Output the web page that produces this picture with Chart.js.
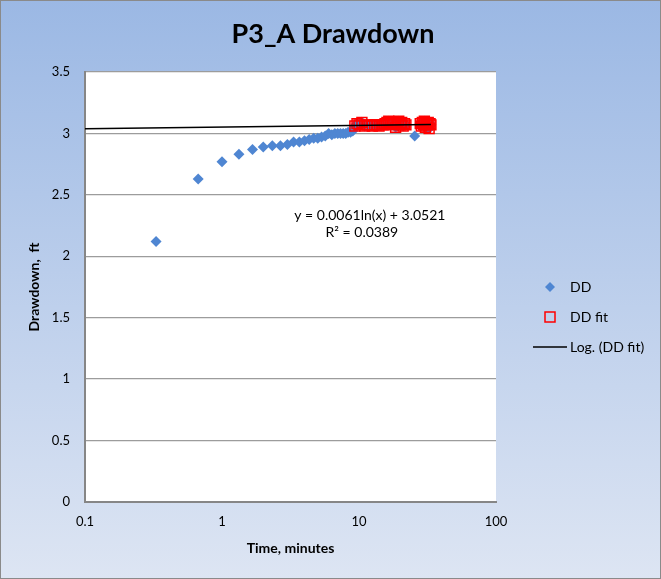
<!DOCTYPE html>
<html>
<head>
<meta charset="utf-8">
<script src="https://cdn.jsdelivr.net/npm/chart.js@4.4.1/dist/chart.umd.min.js"></script>
<style>
  html, body { margin: 0; padding: 0; background: #ffffff; }
  canvas { display: block; }
</style>
</head>
<body>
<canvas id="chart" width="661" height="579"></canvas>
<script>
// Drawdown during the early part of the test (minutes, ft)
const earlyTime = [0.33, 0.67, 1, 1.33, 1.67, 2, 2.33, 2.67, 3, 3.33, 3.67, 4, 4.33, 4.67, 5,
  5.33, 5.67, 6, 6.33, 6.67, 7, 7.33, 7.67, 8, 8.33, 8.67, 9];
const earlyDD = [2.12, 2.63, 2.77, 2.83, 2.87, 2.89, 2.90, 2.90, 2.91, 2.93, 2.93, 2.94, 2.95, 2.96, 2.96,
  2.97, 2.98, 3.00, 2.99, 3.00, 3.00, 3.00, 3.00, 3.00, 3.01, 3.01, 3.02];

// Late-time readings used for the fit (minutes, ft)
const fitTime = [9.33, 9.67, 10, 10.5, 11, 11.5, 12, 12.5, 13, 13.5, 14, 14.5, 15, 15.5, 16, 16.5,
  17, 17.5, 18, 18.5, 19, 19.5, 20, 20.5, 21, 21.5, 22,
  28, 28.5, 29, 29.5, 30, 30.5, 31, 31.5, 32, 32.5, 33, 33.5];
const fitDD = [3.06, 3.08, 3.07, 3.09, 3.06, 3.07, 3.07, 3.06, 3.07, 3.07, 3.06, 3.07, 3.07, 3.08, 3.09, 3.10,
  3.08, 3.07, 3.09, 3.05, 3.08, 3.10, 3.07, 3.09, 3.06, 3.08, 3.07,
  3.08, 3.06, 3.09, 3.07, 3.10, 3.05, 3.08, 3.07, 3.09, 3.04, 3.08, 3.07];

// Reading left out of the fit
const excludedTime = [25.5];
const excludedDD = [2.98];

// Logarithmic trendline of the fit readings: y = a ln(x) + b
const trendA = 0.0061;
const trendB = 3.0521;
const trendR2 = 0.0389;
const trendStart = 0.1;

// Axis ticks
const xTickValues = [0.1, 1, 10, 100];
const yMin = 0, yMax = 3.5, yStep = 0.5;

const FONT = 'Lato, "Liberation Sans", "DejaVu Sans", sans-serif';
Chart.defaults.font.family = FONT;
Chart.defaults.color = '#000000';

const pairs = (xs, ys) => xs.map((x, i) => ({ x: x, y: ys[i] }));
const ddPoints = pairs(earlyTime, earlyDD)
  .concat(pairs(fitTime, fitDD))
  .concat(pairs(excludedTime, excludedDD))
  .sort((a, b) => a.x - b.x);
const fitPoints = pairs(fitTime, fitDD);
const trendEnd = fitTime[fitTime.length - 1];
const trendPoints = [trendStart, trendEnd].map(x => ({ x: x, y: trendA * Math.log(x) + trendB }));

const DD_BLUE = '#4F86D2';
const FIT_RED = '#FF0000';

// Gradient backdrop, outer frame and white plot area
const backdrop = {
  id: 'backdrop',
  beforeDraw(chart) {
    const { ctx, width, height, chartArea: a } = chart;
    ctx.save();
    const g = ctx.createLinearGradient(0, 0, 0, height);
    g.addColorStop(0, '#9BB8E4');
    g.addColorStop(1, '#DDE5F3');
    ctx.fillStyle = g;
    ctx.fillRect(0, 0, width, height);
    ctx.strokeStyle = '#8A8A8A';
    ctx.lineWidth = 1;
    ctx.strokeRect(0.5, 0.5, width - 1, height - 1);
    ctx.fillStyle = '#FFFFFF';
    ctx.fillRect(a.left, a.top, a.right - a.left, a.bottom - a.top);
    ctx.restore();
  }
};

// Title, trendline equation and legend
const annotations = {
  id: 'annotations',
  afterDraw(chart) {
    const { ctx, scales } = chart;
    ctx.save();
    ctx.fillStyle = '#000000';
    ctx.textBaseline = 'middle';

    ctx.textAlign = 'center';
    ctx.font = 'bold 27px ' + FONT;
    ctx.fillText('P3_A Drawdown', 333, 34);

    ctx.font = '14px ' + FONT;
    const ex = scales.x.getPixelForValue(12);
    ctx.fillText('y = ' + trendA.toFixed(4) + 'ln(x) + ' + trendB.toFixed(4), ex, scales.y.getPixelForValue(2.33));
    ctx.fillText('R\u00B2 = ' + trendR2.toFixed(4), ex - 8, scales.y.getPixelForValue(2.19));

    // legend
    const mx = 550, tx = 570;
    const rows = [287, 317, 347];
    ctx.fillStyle = DD_BLUE;
    ctx.beginPath();
    ctx.moveTo(mx, rows[0] - 5);
    ctx.lineTo(mx + 5, rows[0]);
    ctx.lineTo(mx, rows[0] + 5);
    ctx.lineTo(mx - 5, rows[0]);
    ctx.closePath();
    ctx.fill();

    ctx.strokeStyle = FIT_RED;
    ctx.lineWidth = 1.5;
    ctx.strokeRect(mx - 5, rows[1] - 5, 10, 10);

    ctx.strokeStyle = '#000000';
    ctx.lineWidth = 1.5;
    ctx.beginPath();
    ctx.moveTo(533, rows[2]);
    ctx.lineTo(567, rows[2]);
    ctx.stroke();

    ctx.fillStyle = '#000000';
    ctx.textAlign = 'left';
    ctx.font = '14px ' + FONT;
    ctx.fillText('DD', tx, rows[0]);
    ctx.fillText('DD fit', tx, rows[1]);
    ctx.fillText('Log. (DD fit)', tx, rows[2]);
    ctx.restore();
  }
};

new Chart(document.getElementById('chart'), {
  type: 'scatter',
  data: {
    datasets: [
      {
        label: 'Log. (DD fit)',
        type: 'line',
        data: trendPoints,
        borderColor: '#000000',
        borderWidth: 1.5,
        pointRadius: 0,
        fill: false,
        order: 0
      },
      {
        label: 'DD fit',
        data: fitPoints,
        pointStyle: 'rect',
        pointRadius: 7,
        borderColor: FIT_RED,
        borderWidth: 1.5,
        backgroundColor: 'rgba(0,0,0,0)',
        order: 1
      },
      {
        label: 'DD',
        data: ddPoints,
        pointStyle: 'rectRot',
        pointRadius: 5.5,
        borderWidth: 0,
        borderColor: DD_BLUE,
        backgroundColor: DD_BLUE,
        order: 2
      }
    ]
  },
  options: {
    responsive: false,
    animation: false,
    events: [],
    layout: { padding: { top: 72, right: 165, left: 0, bottom: 0 } },
    plugins: {
      legend: { display: false },
      title: { display: false },
      tooltip: { enabled: false }
    },
    scales: {
      x: {
        type: 'logarithmic',
        position: 'bottom',
        min: xTickValues[0],
        max: xTickValues[xTickValues.length - 1],
        afterBuildTicks: s => { s.ticks = xTickValues.map(v => ({ value: v })); },
        afterFit: s => { s.height = 77; },
        ticks: {
          callback: v => String(v),
          autoSkip: false,
          maxRotation: 0,
          padding: 12,
          color: '#000000',
          font: { size: 13 }
        },
        grid: { display: false, drawTicks: false },
        border: { display: true, color: '#868686', width: 2 },
        title: {
          display: true,
          text: 'Time, minutes',
          color: '#000000',
          font: { size: 14, weight: 'bold' },
          padding: { top: 0, bottom: 22 }
        }
      },
      y: {
        type: 'linear',
        min: yMin,
        max: yMax,
        afterFit: s => { s.width = 85; },
        ticks: {
          stepSize: yStep,
          padding: 15,
          color: '#000000',
          font: { size: 13 },
          callback: v => String(Math.round(v * 10) / 10)
        },
        grid: { color: '#9C9C9C', lineWidth: 1.3, drawTicks: false },
        border: { display: true, color: '#868686', width: 2 },
        title: {
          display: true,
          text: 'Drawdown,  ft',
          color: '#000000',
          font: { size: 14, weight: 'bold' },
          padding: { top: 26, bottom: 0 }
        }
      }
    }
  },
  plugins: [backdrop, annotations]
});
</script>
</body>
</html>
